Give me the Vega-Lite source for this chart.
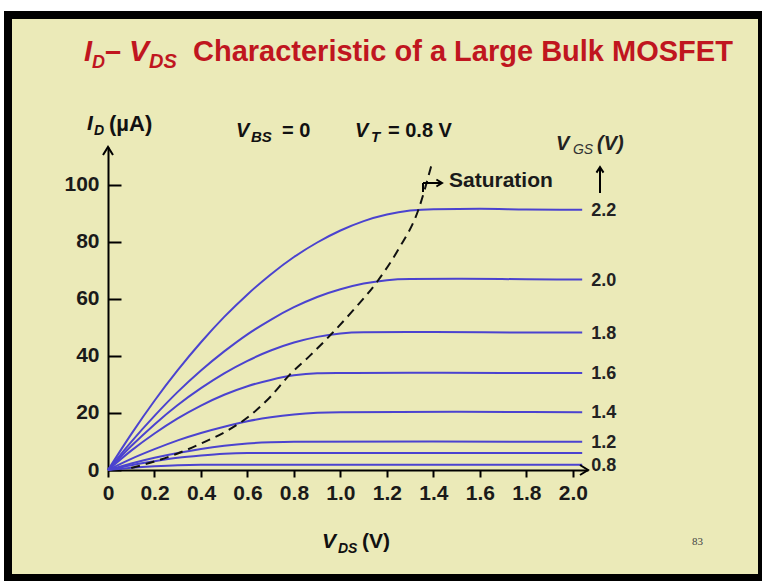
{
  "$schema": "https://vega.github.io/schema/vega-lite/v6.json",
  "width": 754,
  "height": 563,
  "autosize": "none",
  "padding": {"left": 8, "top": 15, "right": 0, "bottom": 3},
  "background": "#ffffff",
  "config": {
    "view": {"fill": "#ebeab8", "stroke": "#000000", "strokeWidth": 8},
    "font": "Liberation Sans"
  },
  "datasets": {
    "curves": [
      {"vgs": "2.2", "vds": 0, "id": 0}, {"vgs": "2.2", "vds": 0.1, "id": 12.6}, {"vgs": "2.2", "vds": 0.2, "id": 24.3}, {"vgs": "2.2", "vds": 0.3, "id": 35.0}, {"vgs": "2.2", "vds": 0.4, "id": 44.8}, {"vgs": "2.2", "vds": 0.5, "id": 53.7}, {"vgs": "2.2", "vds": 0.6, "id": 61.6}, {"vgs": "2.2", "vds": 0.7, "id": 68.6}, {"vgs": "2.2", "vds": 0.8, "id": 74.7}, {"vgs": "2.2", "vds": 0.9, "id": 79.8}, {"vgs": "2.2", "vds": 1.0, "id": 84.0}, {"vgs": "2.2", "vds": 1.1, "id": 87.3}, {"vgs": "2.2", "vds": 1.2, "id": 89.6}, {"vgs": "2.2", "vds": 1.3, "id": 91.0}, {"vgs": "2.2", "vds": 1.4, "id": 91.5}, {"vgs": "2.2", "vds": 1.6, "id": 91.6}, {"vgs": "2.2", "vds": 1.8, "id": 91.4}, {"vgs": "2.2", "vds": 2.04, "id": 91.3},
      {"vgs": "2.0", "vds": 0, "id": 0}, {"vgs": "2.0", "vds": 0.1, "id": 9.9}, {"vgs": "2.0", "vds": 0.2, "id": 19.0}, {"vgs": "2.0", "vds": 0.3, "id": 27.4}, {"vgs": "2.0", "vds": 0.4, "id": 34.9}, {"vgs": "2.0", "vds": 0.5, "id": 41.6}, {"vgs": "2.0", "vds": 0.6, "id": 47.6}, {"vgs": "2.0", "vds": 0.7, "id": 52.7}, {"vgs": "2.0", "vds": 0.8, "id": 57.1}, {"vgs": "2.0", "vds": 0.9, "id": 60.7}, {"vgs": "2.0", "vds": 1.0, "id": 63.4}, {"vgs": "2.0", "vds": 1.1, "id": 65.4}, {"vgs": "2.0", "vds": 1.2, "id": 66.6}, {"vgs": "2.0", "vds": 1.3, "id": 67.0}, {"vgs": "2.0", "vds": 1.5, "id": 67.1}, {"vgs": "2.0", "vds": 1.8, "id": 66.9}, {"vgs": "2.0", "vds": 2.04, "id": 66.8},
      {"vgs": "1.8", "vds": 0, "id": 0}, {"vgs": "1.8", "vds": 0.1, "id": 8.4}, {"vgs": "1.8", "vds": 0.2, "id": 16.0}, {"vgs": "1.8", "vds": 0.3, "id": 22.8}, {"vgs": "1.8", "vds": 0.4, "id": 28.7}, {"vgs": "1.8", "vds": 0.5, "id": 33.9}, {"vgs": "1.8", "vds": 0.6, "id": 38.3}, {"vgs": "1.8", "vds": 0.7, "id": 41.9}, {"vgs": "1.8", "vds": 0.8, "id": 44.7}, {"vgs": "1.8", "vds": 0.9, "id": 46.7}, {"vgs": "1.8", "vds": 1.0, "id": 47.9}, {"vgs": "1.8", "vds": 1.1, "id": 48.3}, {"vgs": "1.8", "vds": 1.4, "id": 48.4}, {"vgs": "1.8", "vds": 1.8, "id": 48.2}, {"vgs": "1.8", "vds": 2.04, "id": 48.2},
      {"vgs": "1.6", "vds": 0, "id": 0}, {"vgs": "1.6", "vds": 0.1, "id": 6.8}, {"vgs": "1.6", "vds": 0.2, "id": 12.8}, {"vgs": "1.6", "vds": 0.3, "id": 18.1}, {"vgs": "1.6", "vds": 0.4, "id": 22.6}, {"vgs": "1.6", "vds": 0.5, "id": 26.4}, {"vgs": "1.6", "vds": 0.6, "id": 29.4}, {"vgs": "1.6", "vds": 0.7, "id": 31.6}, {"vgs": "1.6", "vds": 0.8, "id": 33.2}, {"vgs": "1.6", "vds": 0.9, "id": 33.9}, {"vgs": "1.6", "vds": 1.0, "id": 34.0}, {"vgs": "1.6", "vds": 1.3, "id": 34.1}, {"vgs": "1.6", "vds": 1.7, "id": 34.0}, {"vgs": "1.6", "vds": 2.04, "id": 34.0},
      {"vgs": "1.4", "vds": 0, "id": 0}, {"vgs": "1.4", "vds": 0.1, "id": 3.9}, {"vgs": "1.4", "vds": 0.2, "id": 7.3}, {"vgs": "1.4", "vds": 0.3, "id": 10.4}, {"vgs": "1.4", "vds": 0.4, "id": 13.0}, {"vgs": "1.4", "vds": 0.5, "id": 15.2}, {"vgs": "1.4", "vds": 0.6, "id": 17.1}, {"vgs": "1.4", "vds": 0.7, "id": 18.5}, {"vgs": "1.4", "vds": 0.8, "id": 19.5}, {"vgs": "1.4", "vds": 0.9, "id": 20.1}, {"vgs": "1.4", "vds": 1.0, "id": 20.3}, {"vgs": "1.4", "vds": 1.5, "id": 20.4}, {"vgs": "1.4", "vds": 2.04, "id": 20.3},
      {"vgs": "1.2", "vds": 0, "id": 0}, {"vgs": "1.2", "vds": 0.1, "id": 2.3}, {"vgs": "1.2", "vds": 0.2, "id": 4.3}, {"vgs": "1.2", "vds": 0.3, "id": 6.0}, {"vgs": "1.2", "vds": 0.4, "id": 7.4}, {"vgs": "1.2", "vds": 0.5, "id": 8.5}, {"vgs": "1.2", "vds": 0.6, "id": 9.3}, {"vgs": "1.2", "vds": 0.7, "id": 9.7}, {"vgs": "1.2", "vds": 0.8, "id": 9.9}, {"vgs": "1.2", "vds": 1.4, "id": 10.0}, {"vgs": "1.2", "vds": 2.04, "id": 9.9},
      {"vgs": "1.0", "vds": 0, "id": 0}, {"vgs": "1.0", "vds": 0.1, "id": 1.7}, {"vgs": "1.0", "vds": 0.2, "id": 3.1}, {"vgs": "1.0", "vds": 0.3, "id": 4.3}, {"vgs": "1.0", "vds": 0.4, "id": 5.1}, {"vgs": "1.0", "vds": 0.5, "id": 5.7}, {"vgs": "1.0", "vds": 0.6, "id": 5.96}, {"vgs": "1.0", "vds": 0.7, "id": 6.0}, {"vgs": "1.0", "vds": 2.04, "id": 6.0},
      {"vgs": "0.8", "vds": 0, "id": 0}, {"vgs": "0.8", "vds": 0.1, "id": 0.8}, {"vgs": "0.8", "vds": 0.2, "id": 1.35}, {"vgs": "0.8", "vds": 0.3, "id": 1.7}, {"vgs": "0.8", "vds": 0.4, "id": 1.8}, {"vgs": "0.8", "vds": 2.04, "id": 1.8}
    ],
    "saturation": [
      {"vds": 0.1, "id": 0.7}, {"vds": 0.2, "id": 3.0}, {"vds": 0.3, "id": 5.8}, {"vds": 0.4, "id": 9.3}, {"vds": 0.5, "id": 13.2}, {"vds": 0.6, "id": 18.4}, {"vds": 0.7, "id": 25.8}, {"vds": 0.78, "id": 33.3}, {"vds": 0.87, "id": 40.2}, {"vds": 0.96, "id": 47.6}, {"vds": 1.06, "id": 56.5}, {"vds": 1.16, "id": 66.3}, {"vds": 1.25, "id": 77.5}, {"vds": 1.335, "id": 91.2}, {"vds": 1.39, "id": 106.5}
    ]
  },
  "layer": [
    {
      "data": {"name": "curves"},
      "mark": {"type": "line", "color": "#4b43cf", "strokeWidth": 2, "interpolate": "monotone"},
      "encoding": {
        "x": {
          "field": "vds", "type": "quantitative",
          "scale": {"domain": [0, 2.065], "range": [100, 580], "nice": false, "zero": false},
          "axis": {
            "offset": -108, "values": [0, 0.2, 0.4, 0.6, 0.8, 1.0, 1.2, 1.4, 1.6, 1.8, 2.0],
            "labelExpr": "datum.value == 0 ? '0' : format(datum.value, '.1f')",
            "title": null, "grid": false, "domainColor": "#000000", "domainWidth": 2,
            "tickColor": "#000000", "tickWidth": 2, "tickSize": 7,
            "labelFont": "Liberation Sans", "labelFontSize": 21, "labelFontWeight": "bold", "labelColor": "#1a1a1a",
            "labelPadding": 5, "labelFlush": false, "labelOverlap": false
          }
        },
        "y": {
          "field": "id", "type": "quantitative",
          "scale": {"domain": [0, 113.3], "range": [455, 132], "nice": false, "zero": false},
          "axis": {
            "offset": -100, "values": [0, 20, 40, 60, 80, 100],
            "title": null, "grid": false, "domainColor": "#000000", "domainWidth": 2,
            "tickColor": "#000000", "tickWidth": 2, "tickSize": -13,
            "labelFont": "Liberation Sans", "labelFontSize": 21, "labelFontWeight": "bold", "labelColor": "#1a1a1a",
            "labelPadding": 22, "labelFlush": false, "labelOverlap": false
          }
        },
        "detail": {"field": "vgs"}
      }
    },
    {
      "data": {"name": "saturation"},
      "mark": {"type": "line", "color": "#111111", "strokeWidth": 2, "strokeDash": [9, 6], "interpolate": "monotone"},
      "encoding": {"x": {"field": "vds", "type": "quantitative"}, "y": {"field": "id", "type": "quantitative"}}
    },
    {
      "data": {"name": "curves"},
      "transform": [{"filter": "datum.vds == 2.04 && datum.vgs != '1.0'"}],
      "mark": {"type": "text", "align": "left", "baseline": "middle", "dx": 9, "dy": 1, "fontSize": 18, "fontWeight": "bold", "color": "#222222"},
      "encoding": {"x": {"field": "vds", "type": "quantitative"}, "y": {"field": "id", "type": "quantitative"}, "text": {"field": "vgs"}}
    },
    {
      "data": {"values": [{}]},
      "mark": {"type": "point", "shape": "M-1,1.6L0,0L1,1.6", "size": 100, "filled": false, "stroke": "#000000", "strokeWidth": 2, "opacity": 1},
      "encoding": {"x": {"datum": 0, "type": "quantitative"}, "y": {"datum": 113.3, "type": "quantitative"}}
    },
    {
      "data": {"values": [{}]},
      "mark": {"type": "point", "shape": "M-1.6,-1L0,0L-1.6,1", "size": 100, "filled": false, "stroke": "#000000", "strokeWidth": 2, "opacity": 1},
      "encoding": {"x": {"datum": 2.065, "type": "quantitative"}, "y": {"datum": 0, "type": "quantitative"}}
    },
    {
      "data": {"values": [{}]},
      "mark": {"type": "rule", "color": "#000000", "strokeWidth": 2},
      "encoding": {"x": {"datum": 2.1166, "type": "quantitative"}, "y": {"datum": 97.16, "type": "quantitative"}, "y2": {"datum": 106.28}}
    },
    {
      "data": {"values": [{}]},
      "mark": {"type": "point", "shape": "M-1,1.6L0,0L1,1.6", "size": 49, "filled": false, "stroke": "#000000", "strokeWidth": 2, "opacity": 1},
      "encoding": {"x": {"datum": 2.1166, "type": "quantitative"}, "y": {"datum": 106.28, "type": "quantitative"}}
    },
    {
      "data": {"values": [{}]},
      "mark": {"type": "rule", "color": "#000000", "strokeWidth": 2},
      "encoding": {"x": {"datum": 1.3551, "type": "quantitative"}, "y": {"datum": 97.51, "type": "quantitative"}, "y2": {"datum": 100.67}}
    },
    {
      "data": {"values": [{}]},
      "mark": {"type": "rule", "color": "#000000", "strokeWidth": 2},
      "encoding": {"x": {"datum": 1.3551, "type": "quantitative"}, "x2": {"datum": 1.4369}, "y": {"datum": 100.67, "type": "quantitative"}}
    },
    {
      "data": {"values": [{}]},
      "mark": {"type": "point", "shape": "M-1.6,-1L0,0L-1.6,1", "size": 49, "filled": false, "stroke": "#000000", "strokeWidth": 2, "opacity": 1},
      "encoding": {"x": {"datum": 1.4369, "type": "quantitative"}, "y": {"datum": 100.67, "type": "quantitative"}}
    },
    {
      "data": {"values": [{}]},
      "mark": {"type": "text", "text": "I", "fontSize": 29, "fontWeight": "bold", "fontStyle": "italic", "color": "#c0161f", "align": "left", "baseline": "alphabetic"},
      "encoding": {"x": {"datum": -0.1032, "type": "quantitative"}, "y": {"datum": 143.46, "type": "quantitative"}}
    },
    {
      "data": {"values": [{}]},
      "mark": {"type": "text", "text": "D", "fontSize": 18, "fontWeight": "bold", "fontStyle": "italic", "color": "#c0161f", "align": "left", "baseline": "alphabetic"},
      "encoding": {"x": {"datum": -0.0688, "type": "quantitative"}, "y": {"datum": 141.0, "type": "quantitative"}}
    },
    {
      "data": {"values": [{}]},
      "mark": {"type": "text", "text": "–", "fontSize": 29, "fontWeight": "bold", "color": "#c0161f", "align": "left", "baseline": "alphabetic"},
      "encoding": {"x": {"datum": -0.0129, "type": "quantitative"}, "y": {"datum": 143.46, "type": "quantitative"}}
    },
    {
      "data": {"values": [{}]},
      "mark": {"type": "text", "text": "V", "fontSize": 30, "fontWeight": "bold", "fontStyle": "italic", "color": "#c0161f", "align": "left", "baseline": "alphabetic"},
      "encoding": {"x": {"datum": 0.0903, "type": "quantitative"}, "y": {"datum": 143.46, "type": "quantitative"}}
    },
    {
      "data": {"values": [{}]},
      "mark": {"type": "text", "text": "DS", "fontSize": 20, "fontWeight": "bold", "fontStyle": "italic", "color": "#c0161f", "align": "left", "baseline": "alphabetic"},
      "encoding": {"x": {"datum": 0.1764, "type": "quantitative"}, "y": {"datum": 141.0, "type": "quantitative"}}
    },
    {
      "data": {"values": [{}]},
      "mark": {"type": "text", "text": "Characteristic of a Large Bulk MOSFET", "fontSize": 29, "fontWeight": "bold", "color": "#c0161f", "align": "left", "baseline": "alphabetic"},
      "encoding": {"x": {"datum": 0.3657, "type": "quantitative"}, "y": {"datum": 143.46, "type": "quantitative"}}
    },
    {
      "data": {"values": [{}]},
      "mark": {"type": "text", "text": "I", "fontSize": 21, "fontWeight": "bold", "fontStyle": "italic", "color": "#111111", "align": "left", "baseline": "alphabetic"},
      "encoding": {"x": {"datum": -0.0903, "type": "quantitative"}, "y": {"datum": 119.26, "type": "quantitative"}}
    },
    {
      "data": {"values": [{}]},
      "mark": {"type": "text", "text": "D", "fontSize": 14, "fontWeight": "bold", "fontStyle": "italic", "color": "#111111", "align": "left", "baseline": "alphabetic"},
      "encoding": {"x": {"datum": -0.0602, "type": "quantitative"}, "y": {"datum": 117.5, "type": "quantitative"}}
    },
    {
      "data": {"values": [{}]},
      "mark": {"type": "text", "text": "(µA)", "fontSize": 22, "fontWeight": "bold", "color": "#111111", "align": "left", "baseline": "alphabetic"},
      "encoding": {"x": {"datum": 0.0043, "type": "quantitative"}, "y": {"datum": 118.9, "type": "quantitative"}}
    },
    {
      "data": {"values": [{}]},
      "mark": {"type": "text", "text": "V", "fontSize": 20, "fontWeight": "bold", "fontStyle": "italic", "color": "#111111", "align": "left", "baseline": "alphabetic"},
      "encoding": {"x": {"datum": 0.5507, "type": "quantitative"}, "y": {"datum": 116.8, "type": "quantitative"}}
    },
    {
      "data": {"values": [{}]},
      "mark": {"type": "text", "text": "BS", "fontSize": 15, "fontWeight": "bold", "fontStyle": "italic", "color": "#111111", "align": "left", "baseline": "alphabetic"},
      "encoding": {"x": {"datum": 0.6152, "type": "quantitative"}, "y": {"datum": 115.05, "type": "quantitative"}}
    },
    {
      "data": {"values": [{}]},
      "mark": {"type": "text", "text": "= 0", "fontSize": 20, "fontWeight": "bold", "color": "#111111", "align": "left", "baseline": "alphabetic"},
      "encoding": {"x": {"datum": 0.7485, "type": "quantitative"}, "y": {"datum": 116.8, "type": "quantitative"}}
    },
    {
      "data": {"values": [{}]},
      "mark": {"type": "text", "text": "V", "fontSize": 20, "fontWeight": "bold", "fontStyle": "italic", "color": "#111111", "align": "left", "baseline": "alphabetic"},
      "encoding": {"x": {"datum": 1.0626, "type": "quantitative"}, "y": {"datum": 116.8, "type": "quantitative"}}
    },
    {
      "data": {"values": [{}]},
      "mark": {"type": "text", "text": "T", "fontSize": 15, "fontWeight": "bold", "fontStyle": "italic", "color": "#111111", "align": "left", "baseline": "alphabetic"},
      "encoding": {"x": {"datum": 1.1314, "type": "quantitative"}, "y": {"datum": 115.05, "type": "quantitative"}}
    },
    {
      "data": {"values": [{}]},
      "mark": {"type": "text", "text": "= 0.8 V", "fontSize": 20, "fontWeight": "bold", "color": "#111111", "align": "left", "baseline": "alphabetic"},
      "encoding": {"x": {"datum": 1.2046, "type": "quantitative"}, "y": {"datum": 116.8, "type": "quantitative"}}
    },
    {
      "data": {"values": [{}]},
      "mark": {"type": "text", "text": "V", "fontSize": 20, "fontWeight": "bold", "fontStyle": "italic", "color": "#222222", "align": "left", "baseline": "alphabetic"},
      "encoding": {"x": {"datum": 1.9273, "type": "quantitative"}, "y": {"datum": 112.24, "type": "quantitative"}}
    },
    {
      "data": {"values": [{}]},
      "mark": {"type": "text", "text": "GS", "fontSize": 14, "fontStyle": "italic", "color": "#333333", "align": "left", "baseline": "alphabetic"},
      "encoding": {"x": {"datum": 2.0004, "type": "quantitative"}, "y": {"datum": 110.84, "type": "quantitative"}}
    },
    {
      "data": {"values": [{}]},
      "mark": {"type": "text", "text": "(V)", "fontSize": 20, "fontWeight": "bold", "fontStyle": "italic", "color": "#222222", "align": "left", "baseline": "alphabetic"},
      "encoding": {"x": {"datum": 2.1037, "type": "quantitative"}, "y": {"datum": 112.24, "type": "quantitative"}}
    },
    {
      "data": {"values": [{}]},
      "mark": {"type": "text", "text": "Saturation", "fontSize": 21, "fontWeight": "bold", "color": "#1a1a1a", "align": "left", "baseline": "alphabetic"},
      "encoding": {"x": {"datum": 1.467, "type": "quantitative"}, "y": {"datum": 99.26, "type": "quantitative"}}
    },
    {
      "data": {"values": [{}]},
      "mark": {"type": "text", "text": "V", "fontSize": 21, "fontWeight": "bold", "fontStyle": "italic", "color": "#111111", "align": "left", "baseline": "alphabetic"},
      "encoding": {"x": {"datum": 0.9206, "type": "quantitative"}, "y": {"datum": -27.36, "type": "quantitative"}}
    },
    {
      "data": {"values": [{}]},
      "mark": {"type": "text", "text": "DS", "fontSize": 14, "fontWeight": "bold", "fontStyle": "italic", "color": "#111111", "align": "left", "baseline": "alphabetic"},
      "encoding": {"x": {"datum": 0.9895, "type": "quantitative"}, "y": {"datum": -29.11, "type": "quantitative"}}
    },
    {
      "data": {"values": [{}]},
      "mark": {"type": "text", "text": "(V)", "fontSize": 21, "fontWeight": "bold", "color": "#111111", "align": "left", "baseline": "alphabetic"},
      "encoding": {"x": {"datum": 1.0927, "type": "quantitative"}, "y": {"datum": -27.36, "type": "quantitative"}}
    },
    {
      "data": {"values": [{}]},
      "mark": {"type": "text", "text": "83", "font": "Liberation Serif", "fontSize": 11, "color": "#444444", "align": "left", "baseline": "alphabetic"},
      "encoding": {"x": {"datum": 2.5124, "type": "quantitative"}, "y": {"datum": -26.31, "type": "quantitative"}}
    }
  ]
}
